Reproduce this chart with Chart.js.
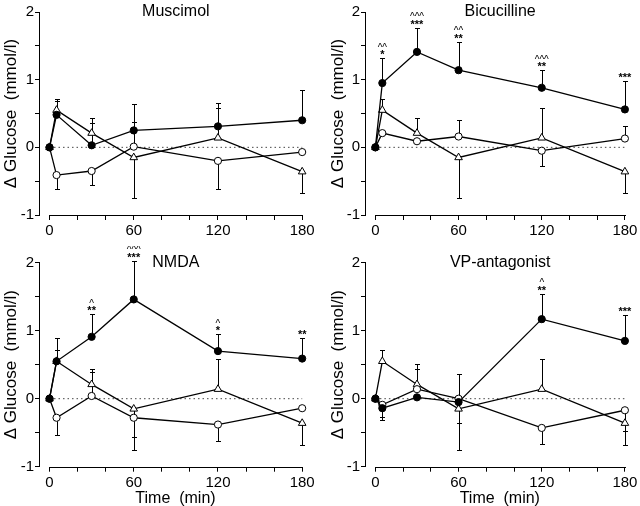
<!DOCTYPE html>
<html>
<head>
<meta charset="utf-8">
<script src="https://cdn.jsdelivr.net/npm/chart.js@4.4.1/dist/chart.umd.min.js"></script>
<style>
  body { margin: 0; background: #fff; }
  #wrap { position: relative; width: 640px; height: 506px; overflow: hidden; }
  canvas { position: absolute; }
</style>
</head>
<body>
<div id="wrap">
  <canvas id="muscimol" width="320" height="250" style="left:0;top:0"></canvas>
  <canvas id="bicucilline" width="320" height="250" style="left:320px;top:0"></canvas>
  <canvas id="nmda" width="320" height="260" style="left:0;top:246px"></canvas>
  <canvas id="vpant" width="320" height="260" style="left:320px;top:246px"></canvas>
</div>
<script>
// 数据
const times = [0, 5, 30, 60, 120, 180];
const xTicks = [0, 20, 40, 60, 80, 100, 120, 140, 160, 180];

// triangles: same control curve in every panel
const vehicle = [0, 0.55, 0.21, -0.15, 0.14, -0.36];
const vehicleErr = [0, 0.17, 0.23, -0.6, 0.44, -0.32];

// error values: positive = bar drawn up, negative = bar drawn down
const muscimolFilled = [0, 0.48, 0.03, 0.25, 0.31, 0.40];
const muscimolFilledErr = [0, 0.2, 0.33, 0.39, 0.34, 0.44];
const muscimolOpen = [0, -0.41, -0.35, 0.01, -0.20, -0.07];
const muscimolOpenErr = [0, -0.21, -0.2, 0.36, -0.41, 0];
const muscimolCarets = ['', '', '', '', '', ''];
const muscimolStars = ['', '', '', '', '', ''];

const bicFilled = [0, 0.95, 1.41, 1.14, 0.88, 0.56];
const bicFilledErr = [0, 0.37, 0.36, 0.42, 0.26, 0.42];
const bicOpen = [0, 0.21, 0.09, 0.16, -0.05, 0.13];
const bicOpenErr = [0, 0, 0, 0.25, -0.22, 0.18];
const bicCarets = ['', '^^', '^^^', '^^', '^^^', ''];
const bicStars = ['', '*', '***', '**', '**', '***'];

const nmdaFilled = [0, 0.55, 0.91, 1.46, 0.70, 0.59];
const nmdaFilledErr = [0, 0.35, 0.33, 0.57, 0.25, 0.31];
const nmdaOpen = [0, -0.28, 0.04, -0.28, -0.38, -0.14];
const nmdaOpenErr = [0, -0.25, 0.35, -0.28, -0.24, 0];
const nmdaCarets = ['', '', '^', '^^^', '^', ''];
const nmdaStars = ['', '', '**', '***', '*', '**'];

const vpFilled = [0, -0.14, 0.02, -0.05, 1.17, 0.85];
const vpFilledErr = [0, -0.17, 0, -0.3, 0.37, 0.38];
const vpOpen = [0, -0.09, 0.14, 0.0, -0.43, -0.17];
const vpOpenErr = [0, -0.18, 0.37, 0.37, -0.23, -0.3];
const vpCarets = ['', '', '', '', '^', ''];
const vpStars = ['', '', '', '', '**', '***'];

const FONT = "'Liberation Sans', Arial, Helvetica, sans-serif";
Chart.defaults.font.family = FONT;
Chart.defaults.color = '#000';

const toXY = (vals) => times.map((t, i) => ({ x: t, y: vals[i] }));

// 误差线
const errorBars = {
  id: 'errorBars',
  beforeDatasetsDraw(chart) {
    const ctx = chart.ctx;
    const yScale = chart.scales.y;
    ctx.save();
    ctx.strokeStyle = '#000';
    ctx.lineWidth = 1;
    chart.data.datasets.forEach((ds, i) => {
      if (!ds.errors) return;
      const meta = chart.getDatasetMeta(i);
      ds.errors.forEach((err, j) => {
        if (!err) return;
        const pt = meta.data[j];
        const x = Math.round(pt.x) + 0.5;
        const yEnd = Math.round(yScale.getPixelForValue(ds.data[j].y + err)) + 0.5;
        ctx.beginPath();
        ctx.moveTo(x, pt.y);
        ctx.lineTo(x, yEnd);
        ctx.moveTo(x - 2.5, yEnd);
        ctx.lineTo(x + 2.5, yEnd);
        ctx.stroke();
      });
    });
    ctx.restore();
  }
};

// 显著性标记
const sigMarks = {
  id: 'sigMarks',
  afterDatasetsDraw(chart, args, opts) {
    if (!opts.stars) return;
    const ctx = chart.ctx;
    const ds = chart.data.datasets[0];
    const meta = chart.getDatasetMeta(0);
    const yScale = chart.scales.y;
    ctx.save();
    ctx.fillStyle = '#000';
    ctx.textAlign = 'center';
    ctx.textBaseline = 'alphabetic';
    opts.stars.forEach((s, j) => {
      if (!s) return;
      const x = meta.data[j].x;
      const top = yScale.getPixelForValue(ds.data[j].y + Math.max(ds.errors[j], 0));
      ctx.font = 'bold 11px ' + FONT;
      ctx.fillText(s, x, top);
      if (opts.carets[j]) {
        ctx.font = '10px ' + FONT;
        ctx.fillText(opts.carets[j], x, top - 7.5);
      }
    });
    ctx.restore();
  }
};

// x轴线只画 0-180
const axisLine = {
  id: 'axisLine',
  afterDraw(chart) {
    const ctx = chart.ctx;
    const xs = chart.scales.x;
    const y = Math.round(chart.chartArea.bottom) + 0.5;
    ctx.save();
    ctx.strokeStyle = '#000';
    ctx.lineWidth = 1;
    ctx.beginPath();
    ctx.moveTo(Math.round(xs.getPixelForValue(xTicks[0])), y);
    ctx.lineTo(Math.round(xs.getPixelForValue(xTicks[xTicks.length - 1])) + 1, y);
    ctx.stroke();
    ctx.restore();
  }
};

// 面板标题
const panelTitle = {
  id: 'panelTitle',
  afterDraw(chart, args, opts) {
    const ctx = chart.ctx;
    const xs = chart.scales.x;
    ctx.save();
    ctx.font = '16px ' + FONT;
    ctx.fillStyle = '#000';
    ctx.textAlign = 'center';
    ctx.textBaseline = 'alphabetic';
    ctx.fillText(opts.text, xs.getPixelForValue(90), chart.chartArea.top + 4);
    ctx.restore();
  }
};

function makePanel(id, title, filled, filledErr, open, openErr, carets, stars, layout) {
  const ctx = document.getElementById(id).getContext('2d');
  return new Chart(ctx, {
    type: 'line',
    data: {
      datasets: [
        {
          data: toXY(filled), errors: filledErr,
          borderColor: '#000', borderWidth: 1.3,
          pointStyle: 'circle', pointRadius: 3.6,
          pointBackgroundColor: '#000', pointBorderColor: '#000', pointBorderWidth: 1,
          clip: false
        },
        {
          data: toXY(open), errors: openErr,
          borderColor: '#000', borderWidth: 1.3,
          pointStyle: 'circle', pointRadius: 3.6,
          pointBackgroundColor: '#fff', pointBorderColor: '#000', pointBorderWidth: 1,
          clip: false
        },
        {
          data: toXY(vehicle), errors: vehicleErr,
          borderColor: '#000', borderWidth: 1.3,
          pointStyle: 'triangle', pointRadius: 4.4,
          pointBackgroundColor: '#fff', pointBorderColor: '#000', pointBorderWidth: 1,
          clip: false
        },
        {
          // zero line
          data: [{ x: times[0], y: 0 }, { x: times[times.length - 1], y: 0 }],
          borderColor: '#444', borderWidth: 1, borderDash: [1.5, 3],
          pointRadius: 0, clip: false
        }
      ]
    },
    options: {
      responsive: false,
      animation: false,
      events: [],
      layout: { padding: { top: layout.padTop, right: layout.padRight, left: 0, bottom: 0 } },
      plugins: {
        legend: { display: false },
        tooltip: { enabled: false },
        sigMarks: { carets, stars },
        panelTitle: { text: title }
      },
      scales: {
        x: {
          type: 'linear',
          min: -7.5,
          max: 187,
          afterBuildTicks: (s) => { s.ticks = xTicks.map(v => ({ value: v })); },
          afterFit: (s) => { s.height = layout.xAxisH; s.paddingLeft = 0; s.paddingRight = 0; },
          grid: { drawOnChartArea: false, drawTicks: true, tickLength: 5, color: '#000' },
          border: { display: false },
          ticks: {
            autoSkip: false, maxRotation: 0, padding: 2,
            font: { size: 15 },
            callback: (v) => (v % 60 === 0 ? String(v) : '')
          },
          title: {
            display: layout.xTitle,
            text: 'Time  (min)',
            font: { size: 16 },
            padding: { top: 0, bottom: -2 }
          }
        },
        y: {
          min: -1,
          max: 2,
          afterFit: (s) => { s.width = layout.yWidth; s.paddingTop = 0; s.paddingBottom = 0; },
          grid: { drawOnChartArea: false, drawTicks: true, tickLength: 4, color: '#000' },
          border: { display: true, color: '#000', width: 1 },
          ticks: {
            stepSize: 0.5, padding: 1,
            font: { size: 15 },
            callback: (v) => (Number.isInteger(v) ? String(v) : '')
          },
          title: {
            display: true,
            text: 'Δ Glucose  (mmol/l)',
            font: { size: 17 },
            padding: { top: layout.yTitlePad, bottom: 0 }
          }
        }
      }
    },
    plugins: [errorBars, sigMarks, axisLine, panelTitle]
  });
}

const leftTop = { padTop: 12, padRight: 8, xAxisH: 35, yWidth: 39, yTitlePad: 1.5, xTitle: false };
const rightTop = { padTop: 12, padRight: 1, xAxisH: 35, yWidth: 45, yTitlePad: 8.5, xTitle: false };
const leftBottom = { padTop: 16.7, padRight: 8, xAxisH: 39.3, yWidth: 39, yTitlePad: 1.5, xTitle: true };
const rightBottom = { padTop: 16.7, padRight: 1, xAxisH: 39.3, yWidth: 45, yTitlePad: 8.5, xTitle: true };

makePanel('muscimol', 'Muscimol', muscimolFilled, muscimolFilledErr, muscimolOpen, muscimolOpenErr,
  muscimolCarets, muscimolStars, leftTop);
makePanel('bicucilline', 'Bicucilline', bicFilled, bicFilledErr, bicOpen, bicOpenErr,
  bicCarets, bicStars, rightTop);
makePanel('nmda', 'NMDA', nmdaFilled, nmdaFilledErr, nmdaOpen, nmdaOpenErr,
  nmdaCarets, nmdaStars, leftBottom);
makePanel('vpant', 'VP-antagonist', vpFilled, vpFilledErr, vpOpen, vpOpenErr,
  vpCarets, vpStars, rightBottom);
</script>
</body>
</html>
